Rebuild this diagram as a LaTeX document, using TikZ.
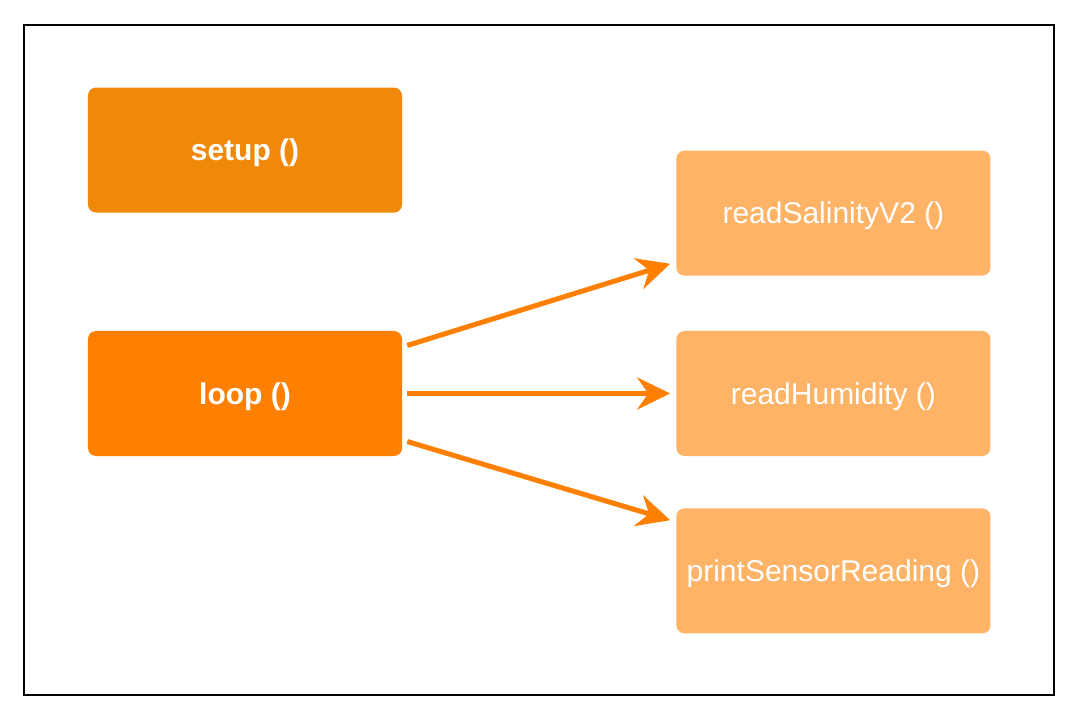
\documentclass[tikz,border=0pt]{standalone}
\usepackage{fontspec}
\setmainfont{Liberation Sans}
\usetikzlibrary{arrows.meta,positioning}

\definecolor{setupcol}{HTML}{F0880A}
\definecolor{loopcol}{HTML}{FF8000}
\definecolor{funccol}{HTML}{FFB366}

\begin{document}
\begin{tikzpicture}[x=1pt,y=1pt,>={Stealth[length=33pt,width=32pt,inset=11pt]},
                    node distance=118pt,
                    every node/.style={text=white,font=\fontsize{30}{36}\selectfont}]
  \tikzstyle{block}=[rectangle,rounded corners=8pt,minimum width=314pt,
                     minimum height=125pt,inner sep=0pt,align=center,
                     text height=22pt,text depth=0.5pt]
  \tikzstyle{call}=[->,draw=loopcol,line width=5pt]

  \useasboundingbox (-245,393.5) rectangle (831,-326.5);
  \draw[line width=1.6pt] (-221,368.5) rectangle (809,-301.5);

  \node[block,fill=loopcol] (loop) at (0,0) {\bfseries loop ()};
  \node[block,fill=setupcol] (setup) [above=118pt of loop] {\bfseries setup ()};
  \node[block,fill=funccol] (humidity) [right=274pt of loop] {readHumidity ()};
  \node[block,fill=funccol] (salinity) [above=55pt of humidity] {readSalinityV2 ()};
  \node[block,fill=funccol] (print) [below=52pt of humidity] {printSensorReading ()};

  \draw[call] ([shift={(5pt,48pt)}]loop.east) -- ([shift={(-6pt,12pt)}]salinity.south west);
  \draw[call] ([xshift=5pt]loop.east) -- ([xshift=-6pt]humidity.west);
  \draw[call] ([shift={(5pt,-48pt)}]loop.east) -- ([shift={(-6pt,-12pt)}]print.north west);
\end{tikzpicture}
\end{document}
